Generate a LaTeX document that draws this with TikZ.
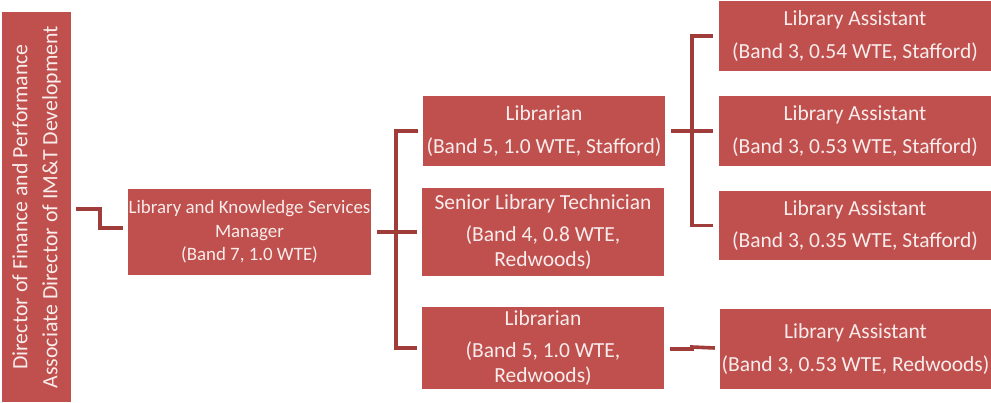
\documentclass[tikz,border=0pt]{standalone}
\usepackage{fontspec}
\setmainfont{Carlito}
\usetikzlibrary{calc}
\definecolor{boxred}{HTML}{C0504D}
\definecolor{linered}{HTML}{A03C3A}
\definecolor{txtw}{HTML}{F8ECEC}
\tikzset{
  orgbox/.style={fill=boxred, draw=none, text=txtw, align=center, inner sep=0pt,
    font=\fontsize{21.5}{24.5}\selectfont},
  conn/.style={draw=linered, line width=3.6pt}
}
\begin{document}
\begin{tikzpicture}[x=1pt,y=-1pt]
\useasboundingbox (0,0) rectangle (991,402);
\node[orgbox, minimum width=69pt, minimum height=390pt] (dir) at (36.5,207) {};
\node[text=txtw, rotate=90, align=center, inner sep=0pt, font=\fontsize{21.8}{30}\selectfont] (dirtext) at (dir.center) {Director of Finance and Performance\\Associate Director of IM\&T Development};
\node[orgbox, minimum width=243pt, minimum height=86pt, font=\fontsize{18.9}{23.5}\selectfont] (lksm) at (249.5,232) {Library and Knowledge Services\\Manager\\(Band 7, 1.0 WTE)};
\node[orgbox, minimum width=242pt, minimum height=70pt] (lib1) at (544,131) {Librarian\\[8pt](Band 5, 1.0 WTE, Stafford)};
\node[orgbox, minimum width=242pt, minimum height=88pt] (sen) at (543,232) {Senior Library Technician\\[8pt](Band 4, 0.8 WTE,\\Redwoods)};
\node[orgbox, minimum width=242pt, minimum height=82pt] (lib2) at (543,348) {Librarian\\[8pt](Band 5, 1.0 WTE,\\Redwoods)};
\node[orgbox, minimum width=272pt, minimum height=70pt] (la1) at (855,36) {Library Assistant\\[8pt](Band 3, 0.54 WTE, Stafford)};
\node[orgbox, minimum width=272pt, minimum height=70pt] (la2) at (855,131) {Library Assistant\\[8pt](Band 3, 0.53 WTE, Stafford)};
\node[orgbox, minimum width=272pt, minimum height=69pt] (la3) at (855,225.5) {Library Assistant\\[8pt](Band 3, 0.35 WTE, Stafford)};
\node[orgbox, minimum width=271pt, minimum height=80pt] (la4) at (855.5,349) {Library Assistant\\[8pt](Band 3, 0.53 WTE, Redwoods)};
% connectors
\coordinate (j1) at (100,209);
\draw[conn] ([xshift=5pt,yshift=-2pt]dir.east) -- (j1) |- ([xshift=-5pt,yshift=4pt]lksm.west);
\draw[conn] ([xshift=6pt]lksm.east) -- ([xshift=-5pt]sen.west);
\coordinate (v1) at (396,0);
\draw[conn] ([xshift=-5pt]lib1.west) -| (v1 |- lib2.west) -- ([xshift=-5pt]lib2.west);
\coordinate (v2) at (692,0);
\draw[conn] ([xshift=6pt]lib1.east) -- ([xshift=-6pt]la2.west);
\draw[conn] ([xshift=-6pt]la1.west) -| (v2 |- la3.west) -- ([xshift=-6pt]la3.west);
\draw[conn] ([xshift=6pt,yshift=-1pt]lib2.east) -- ([yshift=-1pt]v2 |- lib2.east) -- ([yshift=1pt]v2 |- lib2.east) -- ([xshift=-5pt,yshift=1pt]la4.west);
\end{tikzpicture}
\end{document}
